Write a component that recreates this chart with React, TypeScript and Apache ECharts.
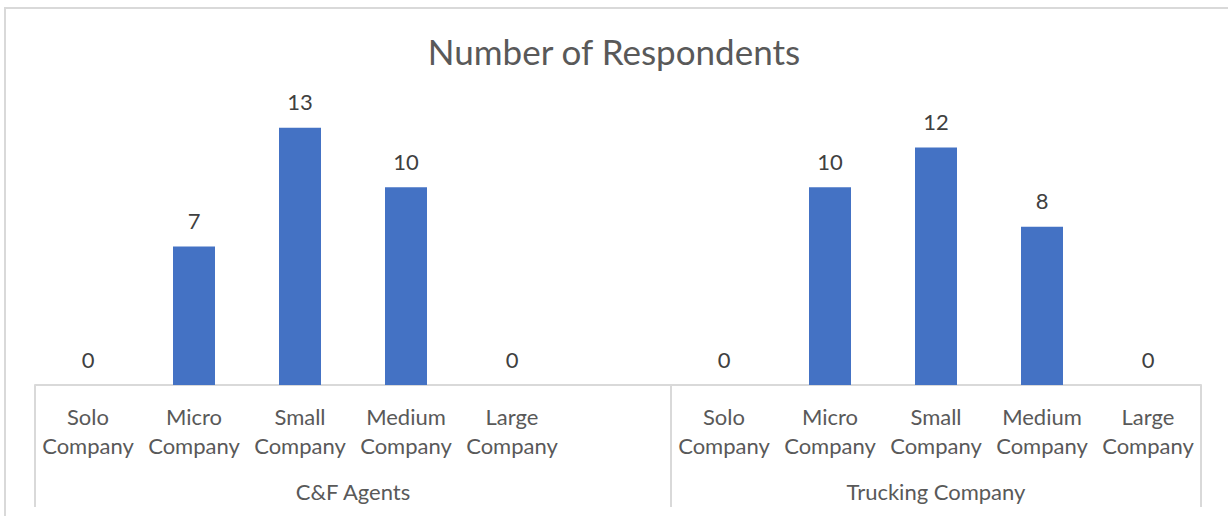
import React, { useEffect, useRef } from "react";
import * as echarts from "echarts";

const titleText = "Number of Respondents";
const companySizes = ["Solo\nCompany", "Micro\nCompany", "Small\nCompany", "Medium\nCompany", "Large\nCompany"];
const groupNames = ["C&F Agents", "Trucking Company"];
const cfAgentsValues = [0, 7, 13, 10, 0];
const truckingValues = [0, 10, 12, 8, 0];
// C&F group has one trailing empty slot in the source sheet
const groupSlotCounts = [6, 5];

const FONT = "Lato, 'Noto Sans', sans-serif";

export default function App() {
  const ref = useRef<HTMLDivElement>(null);
  useEffect(() => {
    document.body.style.margin = "0";
    if (!ref.current) return;
    const chart = echarts.init(ref.current, null, { renderer: "svg" });

    const categories = [...companySizes, "", ...companySizes];
    const values: (number | null)[] = [...cfAgentsValues, null, ...truckingValues];
    const totalSlots = groupSlotCounts.reduce((a, b) => a + b, 0);
    const boundaries: number[] = [0];
    const centers: number[] = [];
    let acc = 0;
    groupSlotCounts.forEach((n) => {
      centers.push(acc + n / 2);
      acc += n;
      boundaries.push(acc);
    });

    chart.setOption({
      animation: false,
      backgroundColor: "#ffffff",
      title: {
        text: titleText,
        left: "center",
        top: 25,
        textStyle: { fontFamily: FONT, fontSize: 35, fontWeight: "normal", color: "#595959", lineHeight: 42 },
      },
      graphic: [
        {
          type: "rect",
          shape: { x: 5, y: 8, width: 1260, height: 540 },
          style: { fill: "none", stroke: "#d9d9d9", lineWidth: 2 },
          silent: true,
        },
      ],
      grid: { left: 35, right: 27, top: 108, bottom: 131 },
      xAxis: [
        {
          type: "category",
          data: categories,
          position: "bottom",
          axisLine: { show: true, lineStyle: { color: "#d9d9d9", width: 2 } },
          axisTick: { show: false },
          axisLabel: {
            interval: 0,
            margin: 17,
            fontFamily: FONT,
            fontSize: 22,
            lineHeight: 29,
            color: "#595959",
          },
        },
        {
          type: "value",
          min: 0,
          max: totalSlots,
          position: "bottom",
          axisLine: { show: false },
          splitLine: { show: false },
          axisTick: {
            show: true,
            customValues: boundaries,
            length: 122,
            lineStyle: { color: "#d9d9d9", width: 2 },
          },
          axisLabel: {
            customValues: centers,
            formatter: (v: number) => {
              const i = centers.indexOf(v);
              return i >= 0 ? groupNames[i] : "";
            },
            margin: 94,
            fontFamily: FONT,
            fontSize: 22,
            lineHeight: 24,
            color: "#595959",
          },
        },
      ],
      yAxis: {
        type: "value",
        min: 0,
        max: 14,
        show: false,
        splitLine: { show: false },
      },
      series: [
        {
          type: "bar",
          xAxisIndex: 0,
          data: values,
          barWidth: 42,
          itemStyle: { color: "#4472c4" },
          label: {
            show: true,
            position: "top",
            distance: 15,
            fontFamily: FONT,
            fontSize: 22,
            color: "#404040",
          },
        },
      ],
    });
    return () => chart.dispose();
  }, []);
  return <div ref={ref} style={{ width: 1228, height: 516 }} />;
}
